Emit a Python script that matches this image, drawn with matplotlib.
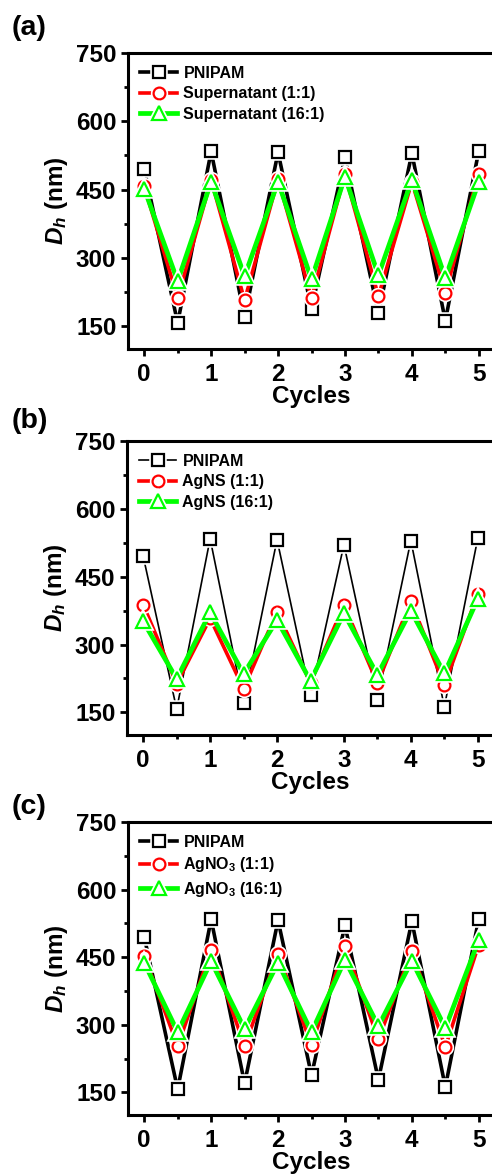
import matplotlib
matplotlib.use("Agg")
import matplotlib.pyplot as plt
from matplotlib.ticker import MultipleLocator, FixedLocator

# ---- data -------------------------------------------------------------
cycles = [0, 0.5, 1, 1.5, 2, 2.5, 3, 3.5, 4, 4.5, 5]

pnipam = [495, 157, 534, 170, 532, 188, 521, 178, 530, 162, 535]

sup_1_1 = [457, 212, 471, 207, 473, 212, 484, 216, 467, 224, 485]
sup_16_1 = [452, 249, 467, 260, 467, 253, 478, 262, 471, 256, 467]

agns_1_1 = [388, 213, 358, 202, 373, 215, 388, 214, 396, 210, 412]
agns_16_1 = [351, 224, 371, 235, 354, 220, 369, 233, 375, 236, 401]

agno3_1_1 = [453, 253, 465, 253, 458, 255, 474, 268, 463, 251, 478]
agno3_16_1 = [438, 284, 441, 291, 438, 284, 444, 297, 442, 293, 488]

panel_tags = ["(a)", "(b)", "(c)"]
legend_labels = [
    ["PNIPAM", "Supernatant (1:1)", "Supernatant (16:1)"],
    ["PNIPAM", "AgNS (1:1)", "AgNS (16:1)"],
    ["PNIPAM", r"AgNO$_\mathregular{3}$ (1:1)", r"AgNO$_\mathregular{3}$ (16:1)"],
]
panel_series = [
    [pnipam, sup_1_1, sup_16_1],
    [pnipam, agns_1_1, agns_16_1],
    [pnipam, agno3_1_1, agno3_16_1],
]
y_major = [150, 300, 450, 600, 750]
x_major = [0, 1, 2, 3, 4, 5]

# ---- style ------------------------------------------------------------
plt.rcParams["font.family"] = ["Liberation Sans", "DejaVu Sans"]
plt.rcParams["font.weight"] = "bold"
plt.rcParams["mathtext.fontset"] = "custom"
plt.rcParams["mathtext.rm"] = "Liberation Sans:bold"
plt.rcParams["mathtext.bf"] = "Liberation Sans:bold"
plt.rcParams["mathtext.it"] = "Liberation Sans:bold:italic"

W, H = 492, 1175
fig = plt.figure(figsize=(W / 100, H / 100), dpi=100)

def px_axes(left, top, right, bottom):
    return [left / W, 1 - bottom / H, (right - left) / W, (bottom - top) / H]

# axes boxes in pixels (left, top, right, bottom); right edge runs past the figure
boxes = [
    (127.5, 53, 495.5, 349),
    (126.5, 441, 494.5, 735),
    (127.5, 822, 495.5, 1115),
]
tag_pos = [(12, 28), (12, 421), (12, 807)]

colors = ["black", "#ff0000", "#00ff00"]
markers = ["s", "o", "^"]
msizes = [8.0, 8.5, 10.0]
black_lw = [2.6, 1.2, 2.6]
lws = [None, 2.6, 3.4]

for p in range(3):
    ax = fig.add_axes(px_axes(*boxes[p]))
    handles = []
    for s in range(3):
        lw = black_lw[p] if s == 0 else lws[s]
        z = 2 + s
        ln, = ax.plot(cycles, panel_series[p][s], color=colors[s], lw=lw,
                      zorder=z, solid_joinstyle="miter")
        halo, = ax.plot(cycles, panel_series[p][s], ls="none", marker=markers[s],
                        ms=msizes[s], mfc="white", mec="white", mew=4.0,
                        zorder=z + 0.3)
        mk, = ax.plot(cycles, panel_series[p][s], ls="none", marker=markers[s],
                      ms=msizes[s], mfc="white", mec=colors[s], mew=1.6,
                      zorder=z + 0.6)
        handles.append((ln, halo, mk))

    ax.set_xlim(-0.25, 5.25)
    ax.set_ylim(100, 750)
    ax.xaxis.set_major_locator(FixedLocator(x_major))
    ax.xaxis.set_minor_locator(MultipleLocator(0.5))
    ax.yaxis.set_major_locator(FixedLocator(y_major))
    ax.yaxis.set_minor_locator(FixedLocator([225, 375, 525, 675]))
    ax.tick_params(which="major", direction="out", length=5, width=2,
                   labelsize=17.5)
    ax.tick_params(which="minor", direction="out", length=3, width=2)
    ax.tick_params(axis="x", which="major", pad=5)
    ax.tick_params(axis="y", which="major", pad=3)
    for sp in ax.spines.values():
        sp.set_linewidth(2.2)

    ax.set_xlabel("Cycles", fontsize=17.5, fontweight="bold", labelpad=-1)
    ax.set_ylabel(r"$D_h$ (nm)", fontsize=17.5, fontweight="bold", labelpad=4)

    leg = ax.legend(handles, legend_labels[p], loc="upper left",
                    bbox_to_anchor=(0.0, 1.0), frameon=False,
                    prop={"size": 11.5, "weight": "bold"},
                    handlelength=2.3, handletextpad=0.4, labelspacing=0.35,
                    borderaxespad=0.4)

    fig.text(tag_pos[p][0] / W, 1 - tag_pos[p][1] / H, panel_tags[p],
             fontsize=20.5, fontweight="bold", ha="left", va="center")

fig.savefig("out.png", dpi=100)
